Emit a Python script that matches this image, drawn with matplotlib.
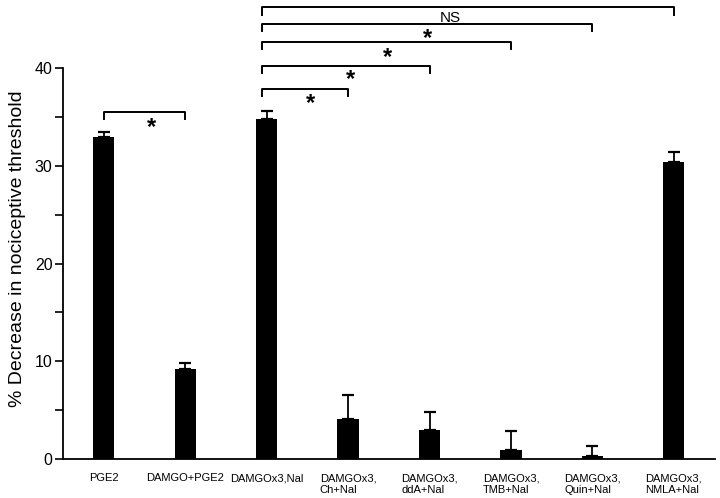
import numpy as np
import matplotlib
matplotlib.use("Agg")
import matplotlib.pyplot as plt

plt.rcParams['font.family'] = ['Liberation Sans', 'DejaVu Sans']

groups = ["PGE2", "DAMGO+PGE2", "DAMGOx3,Nal", "DAMGOx3,\nCh+Nal", "DAMGOx3,\nddA+Nal",
          "DAMGOx3,\nTMB+Nal", "DAMGOx3,\nQuin+Nal", "DAMGOx3,\nNMLA+Nal"]
means = [32.9, 9.2, 34.8, 4.1, 3.0, 0.9, 0.3, 30.4]
errors = [0.6, 0.6, 0.8, 2.5, 1.8, 2.0, 1.0, 1.0]

# comparisons: (from, to, bracket height, label, label x, label y)
comparisons = [
    (0, 1, 35.5, "*", 0.59, 33.9),
    (2, 3, 37.9, "*", 2.54, 36.4),
    (2, 4, 40.2, "*", 3.03, 38.8),
    (2, 5, 42.7, "*", 3.49, 41.1),
    (2, 6, 44.5, "*", 3.97, 43.0),
    (2, 7, 46.2, "NS", 4.25, 45.1),
]

fig = plt.figure(figsize=(7.2, 4.98), dpi=100)
ax = fig.add_axes([0.0875, 0.078, 0.905, 0.7855])

x = np.arange(len(groups))
ax.bar(x, means, width=0.26, color='black', zorder=2)
ax.errorbar(x, means, yerr=[np.zeros(len(errors)), errors], fmt='none',
            ecolor='black', elinewidth=1.3, capsize=4, capthick=1.6, zorder=1)

for i, j, h, lab, lx, ly in comparisons:
    x0 = x[i] - 0.06 if i == 2 else x[i]
    ax.plot([x0, x0, x[j], x[j]], [h - 0.75, h, h, h - 0.75], color='black',
            lw=1.4, clip_on=False)
    if lab == "*":
        ax.text(lx, ly, lab, fontsize=17, ha='center', va='center',
                fontweight='bold')
    else:
        ax.text(lx, ly, lab, fontsize=11, ha='center', va='center')

ax.set_xlim(-0.5, 7.5)
ax.set_ylim(0, 40)
ax.set_yticks([0, 10, 20, 30, 40])
ax.set_yticks([5, 15, 25, 35], minor=True)
ax.tick_params(axis='y', which='both', length=6, width=1.2, direction='out',
               labelsize=11.5, pad=1.5)
ax.set_xticks(x)
ax.set_xticklabels(groups, fontsize=8, multialignment='left', va='top')
ax.tick_params(axis='x', length=0, pad=10)
fig.text(0.025, 0.5, "% Decrease in nociceptive threshold", fontsize=14,
         rotation=90, ha='center', va='center')

ax.spines['top'].set_visible(False)
ax.spines['right'].set_visible(False)
ax.spines['left'].set_linewidth(1.3)
ax.spines['bottom'].set_linewidth(1.3)

fig.savefig("out.png", dpi=100)
